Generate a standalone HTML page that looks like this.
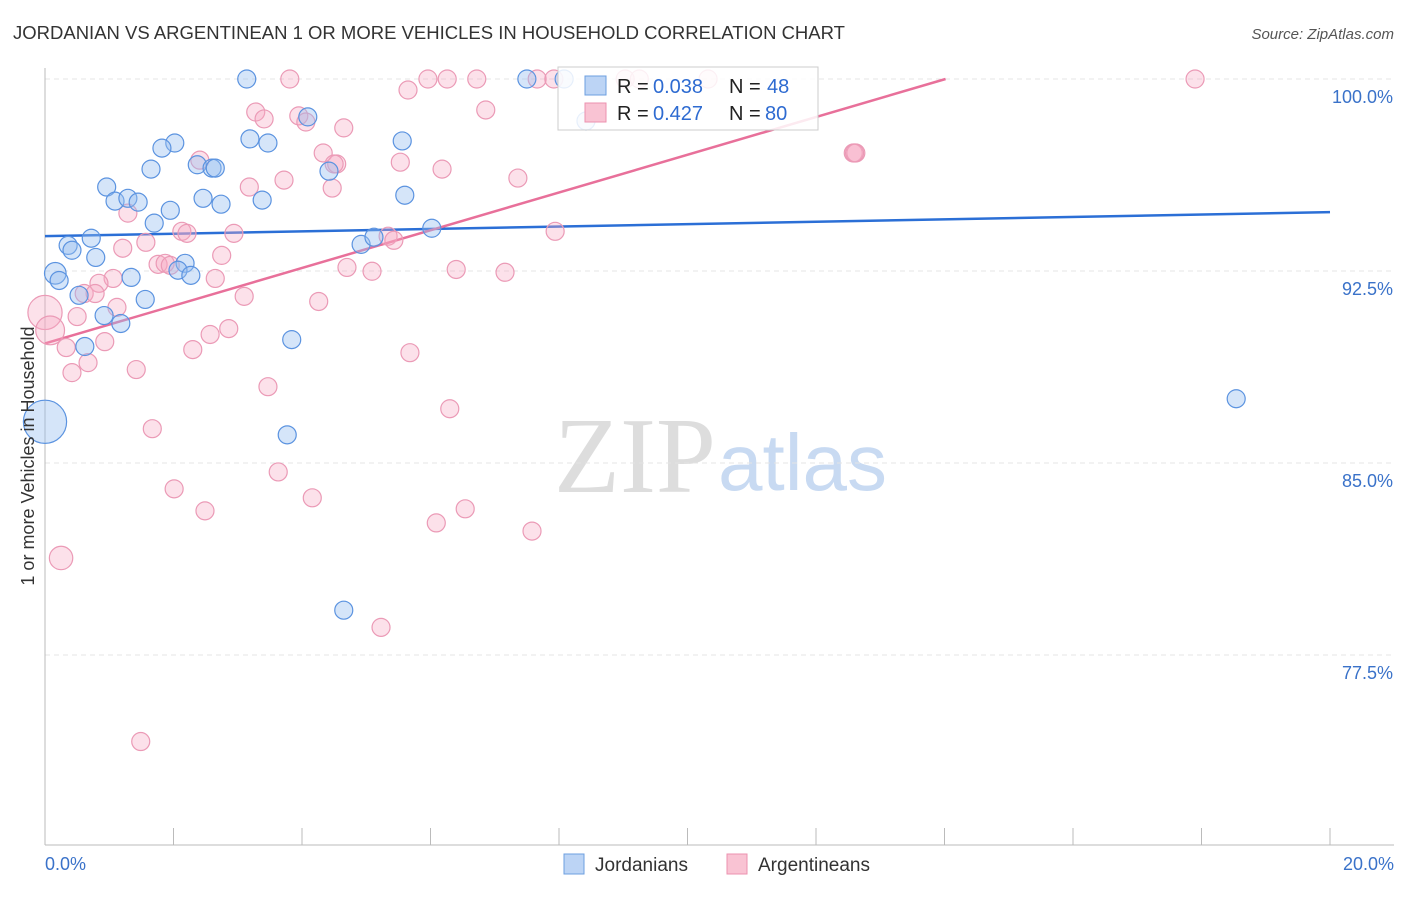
<!DOCTYPE html>
<html><head><meta charset="utf-8"><style>
body{margin:0;background:#fff;width:1406px;height:892px;overflow:hidden;font-family:"Liberation Sans",sans-serif}
</style></head><body>
<svg id="chart" width="1406" height="892" xmlns="http://www.w3.org/2000/svg" font-family="Liberation Sans, sans-serif">
<text x="13" y="39" font-size="18.5" fill="#333">JORDANIAN VS ARGENTINEAN 1 OR MORE VEHICLES IN HOUSEHOLD CORRELATION CHART</text>
<text x="1394" y="39" font-size="15" fill="#555" text-anchor="end" font-style="italic">Source: ZipAtlas.com</text>
<text x="716" y="492" font-size="108" text-anchor="end" fill="#ddd" font-family="Liberation Serif, serif">ZIP</text>
<text x="718" y="490" font-size="80" fill="#c8daf2">atlas</text>
<g id="grid"></g><g id="axes"></g><g id="lines"></g><g id="pts"></g>
<text transform="translate(34,456) rotate(-90)" font-size="18" fill="#333" text-anchor="middle">1 or more Vehicles in Household</text>
<text x="45" y="870" font-size="18" fill="#3a72c9">0.0%</text>
<text x="1394" y="870" font-size="18" fill="#3a72c9" text-anchor="end">20.0%</text>
<g>
<rect x="558" y="67" width="260" height="63" fill="#fff" fill-opacity="0.85" stroke="#ccc"/>
<rect x="585" y="76" width="21" height="19" fill="#bcd4f5" stroke="#6d9fe0"/>
<rect x="585" y="103" width="21" height="19" fill="#f9c3d3" stroke="#ec91af"/>
<text x="617" y="93" font-size="20" fill="#222">R =</text><text x="653" y="93" font-size="20" fill="#2e6bd1">0.038</text>
<text x="729" y="93" font-size="20" fill="#222">N =</text><text x="767" y="93" font-size="20" fill="#2e6bd1">48</text>
<text x="617" y="120" font-size="20" fill="#222">R =</text><text x="653" y="120" font-size="20" fill="#2e6bd1">0.427</text>
<text x="729" y="120" font-size="20" fill="#222">N =</text><text x="765" y="120" font-size="20" fill="#2e6bd1">80</text>
</g>
<g>
<rect x="564" y="854" width="20" height="20" fill="#bcd4f5" stroke="#6d9fe0"/>
<text x="595" y="871" font-size="19" fill="#333">Jordanians</text>
<rect x="727" y="854" width="20" height="20" fill="#f9c3d3" stroke="#ec91af"/>
<text x="758" y="871" font-size="19" fill="#333">Argentineans</text>
</g>
</svg>
<script>
const yTicks=[100,92.5,85,77.5];
const yTickLabels=["100.0%","92.5%","85.0%","77.5%"];
const xTicks=[0,2,4,6,8,10,12,14,16,18,20];
const blueX=[3.14,7.50,8.42,4.09,3.19,3.47,5.56,2.02,1.82,2.37,2.60,2.65,1.65,4.42,0.96,1.09,1.29,1.45,2.46,2.74,3.38,5.60,1.95,1.70,6.02,0.72,0.36,0.42,4.92,5.12,0.79,2.18,0.16,0.22,2.07,2.27,1.34,1.56,0.53,0.92,1.18,3.84,0.62,18.54,0,3.77,4.65,8.08];
const blueY=[100.0,100.0,98.36,98.52,97.66,97.50,97.58,97.50,97.30,96.65,96.52,96.52,96.48,96.40,95.78,95.23,95.34,95.19,95.34,95.11,95.27,95.46,94.87,94.37,94.17,93.78,93.50,93.31,93.54,93.82,93.03,92.80,92.41,92.13,92.53,92.33,92.25,91.39,91.55,90.76,90.45,89.82,89.55,87.51,86.61,86.10,79.25,100.0];
const blueSize=[1,1,1,1,1,1,1,1,1,1,1,1,1,1,1,1,1,1,1,1,1,1,1,1,1,1,1,1,1,1,1,1,1.2,1,1,1,1,1,1,1,1,1,1,1,2.4,1,1,1];
const pinkX=[3.81,5.96,6.26,6.72,7.66,7.92,9.03,9.25,10.32,17.90,5.65,3.28,3.41,3.95,4.06,6.86,4.65,4.33,4.54,4.50,5.53,6.18,3.18,3.72,4.47,7.36,2.41,12.58,12.62,1.29,2.13,2.21,2.94,5.34,5.43,7.94,1.57,1.21,2.75,1.76,1.87,1.95,4.70,5.09,6.40,7.16,1.06,0.84,2.65,0.61,0.78,3.10,4.26,1.12,0.50,0,0.08,2.86,2.57,0.93,0.33,2.30,5.68,0.67,0.42,1.42,3.47,6.30,1.67,2.01,3.63,4.16,2.49,6.09,6.54,7.58,0.25,5.23,1.49,12.6];
const pinkY=[100.0,100.0,100.0,100.0,100.0,100.0,100.0,100.0,100.0,100.0,99.57,98.71,98.44,98.56,98.32,98.79,98.09,97.11,96.68,96.68,96.75,96.48,95.78,96.05,95.74,96.13,96.83,97.11,97.11,94.76,94.05,93.97,93.97,93.86,93.70,94.05,93.62,93.39,93.11,92.76,92.80,92.72,92.64,92.49,92.56,92.45,92.21,92.02,92.21,91.62,91.62,91.51,91.31,91.08,90.72,90.88,90.18,90.25,90.02,89.74,89.51,89.43,89.31,88.92,88.53,88.65,87.98,87.12,86.34,83.99,84.65,83.64,83.13,82.66,83.21,82.34,81.29,78.58,74.12,97.11];
const pinkSize=[1,1,1,1,1,1,1,1,1,1,1,1,1,1,1,1,1,1,1,1,1,1,1,1,1,1,1,1,1,1,1,1,1,1,1,1,1,1,1,1,1,1,1,1,1,1,1,1,1,1,1,1,1,1,1,1.9,1.6,1,1,1,1,1,1,1,1,1,1,1,1,1,1,1,1,1,1,1,1.3,1,1,1];
const blueTrend=[93.86,94.80];
const pinkTrend=[89.67,0.737];
const X=v=>45+v*64.25, Y=v=>79+(100-v)*25.6;
const NS="http://www.w3.org/2000/svg";
function mk(t,a,p){const e=document.createElementNS(NS,t);for(const k in a)e.setAttribute(k,a[k]);document.getElementById(p).appendChild(e);return e;}
yTicks.forEach((t,i)=>{
 const g=mk('line',{x1:45,x2:1394,y1:Y(t),y2:Y(t),stroke:'#e4e4e4','stroke-dasharray':'5,4'},'grid');
 
 
 const l=mk('text',{x:1393,y:Y(t)+24,'font-size':18,fill:'#3a72c9','text-anchor':'end'},'grid');
 l.textContent=yTickLabels[i];
 
 
});
const ax=mk('line',{x1:45,x2:45,y1:68,y2:845,stroke:'#bbb'},'axes');


const bx=mk('line',{x1:45,x2:1394,y1:845,y2:845,stroke:'#bbb'},'axes');


xTicks.forEach(t=>{
 const k=mk('line',{x1:X(t),x2:X(t),y1:828,y2:845,stroke:'#bbb'},'axes');
 
 
});
function pts(xs,ys,ss,fill,stroke,name){
 xs.forEach((x,i)=>{
  const c=mk('circle',{cx:X(x),cy:Y(ys[i]),r:9*ss[i],fill:fill,stroke:stroke,'stroke-width':1.2},'pts');
  
  
 });
}
pts(pinkX,pinkY,pinkSize,'rgba(245,170,195,0.35)','#eb9ab6','argentinean-point');
pts(blueX,blueY,blueSize,'rgba(150,190,240,0.4)','#5b93e0','jordanian-point');
const bl=mk('line',{x1:X(0),y1:Y(blueTrend[0]),x2:X(20),y2:Y(blueTrend[1]),stroke:'#2b6fd6','stroke-width':2.5},'lines');


const xe=(100-pinkTrend[0])/pinkTrend[1];
const pl=mk('line',{x1:X(0),y1:Y(pinkTrend[0]),x2:X(xe),y2:Y(100),stroke:'#e8709a','stroke-width':2.5},'lines');


</script>
</body></html>
